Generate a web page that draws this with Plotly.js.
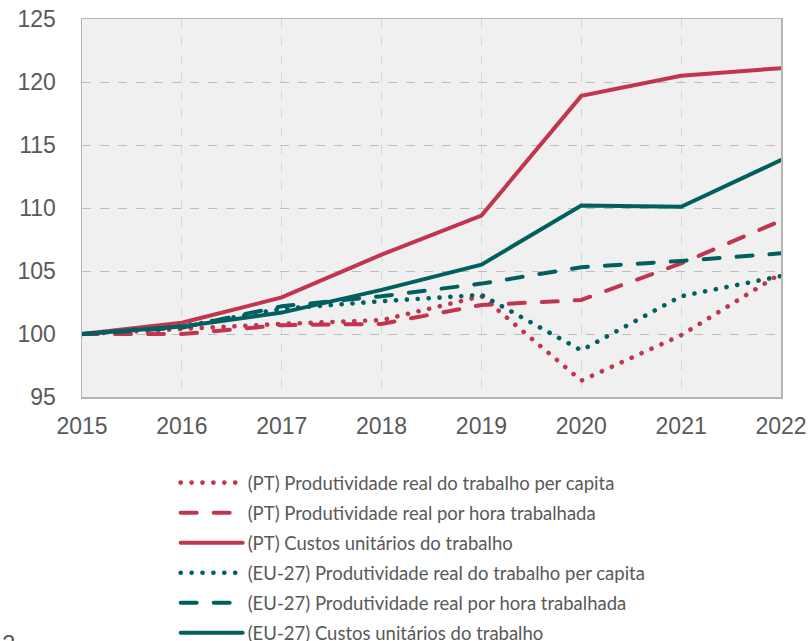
<!DOCTYPE html>
<html>
<head>
<meta charset="utf-8">
<script src="https://cdn.plot.ly/plotly-3.0.1.min.js"></script>
<style>
html,body{margin:0;padding:0;background:#fff;}
#chart{width:810px;height:641px;}
.scatterlayer .js-line, .legendlines path { stroke-linecap: round !important; }
</style>
</head>
<body>
<div id="chart"></div>
<script>
const years = [2015, 2016, 2017, 2018, 2019, 2020, 2021, 2022];
const ptPerCapita   = [100, 100.4, 100.8, 101.1, 103.0, 96.3, 99.9, 104.8];
const ptPorHora     = [100, 100.0, 100.7, 100.8, 102.3, 102.7, 105.6, 109.0];
const ptCustos      = [100, 100.9, 102.9, 106.3, 109.4, 118.9, 120.5, 121.1];
const euPerCapita   = [100, 100.6, 102.0, 102.6, 103.1, 98.7, 103.0, 104.6];
const euPorHora     = [100, 100.5, 102.2, 103.0, 104.0, 105.3, 105.8, 106.4];
const euCustos      = [100, 100.6, 101.7, 103.5, 105.5, 110.2, 110.1, 113.8];
const names = [
  "(PT) Produtividade real do trabalho per capita",
  "(PT) Produtividade real por hora trabalhada",
  "(PT) Custos unitários do trabalho",
  "(EU-27) Produtividade real do trabalho per capita",
  "(EU-27) Produtividade real por hora trabalhada",
  "(EU-27) Custos unitários do trabalho"
];
const RED = "#c1354f", TEAL = "#00605f";
const series = [ptPerCapita, ptPorHora, ptCustos, euPerCapita, euPorHora, euCustos];
const colors = [RED, RED, RED, TEAL, TEAL, TEAL];
const dashes = ["0.1px,10.8px", "16px,17px", "solid", "0.1px,10.8px", "16px,17px", "solid"];
const widths = [4.6, 4, 4, 4.6, 4, 4];

const traces = series.map((s, i) => ({
  x: years, y: s, name: names[i], type: "scatter", mode: "lines",
  line: {color: colors[i], width: widths[i], dash: dashes[i]},
  legendgroup: "g" + i, hoverinfo: "skip"
}));

const layout = {
  width: 810, height: 641,
  margin: {l: 82, r: 29, t: 19, b: 244, pad: 0, autoexpand: false},
  paper_bgcolor: "#ffffff",
  plot_bgcolor: "#f0f0f0",
  font: {family: "Liberation Sans, Arial, sans-serif", color: "#595959"},
  showlegend: true,
  legend: {
    x: 0.134, xanchor: "left", y: -0.1774, yanchor: "top",
    font: {family: "Lato, sans-serif", size: 18.5, color: "#595959"},
    itemwidth: 62, tracegroupgap: 3, bgcolor: "rgba(0,0,0,0)",
    traceorder: "grouped"
  },
  xaxis: {
    range: [2015, 2022], dtick: 1, tick0: 2015,
    showgrid: true, gridcolor: "#d6d6d6", griddash: "dash", gridwidth: 1,
    showline: true, mirror: true, linecolor: "#b5b5b5", linewidth: 1.5,
    ticks: "", zeroline: false,
    tickfont: {size: 23, color: "#595959"},
    ticklabelstandoff: 8
  },
  yaxis: {
    range: [95, 125], dtick: 5, tick0: 95,
    showgrid: true, gridcolor: "#bdbdbd", griddash: "dash", gridwidth: 1,
    showline: true, mirror: true, linecolor: "#b5b5b5", linewidth: 1.5,
    ticks: "", zeroline: false,
    tickfont: {size: 23, color: "#595959"},
    ticklabelstandoff: 20
  },
  annotations: [{
    text: "2", xref: "paper", yref: "paper", x: -0.117, y: -0.61,
    xanchor: "left", yanchor: "top", showarrow: false,
    font: {size: 24, color: "#595959"}
  }]
};

Plotly.newPlot("chart", traces, layout, {displayModeBar: false, staticPlot: true});
</script>
</body>
</html>
